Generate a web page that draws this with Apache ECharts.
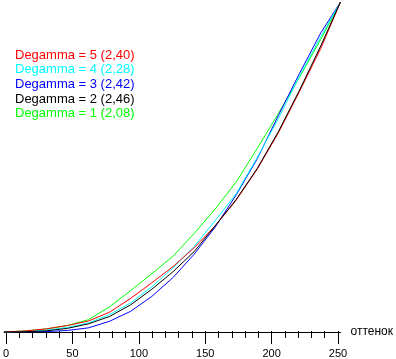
<!DOCTYPE html>
<html>
<head>
<meta charset="utf-8">
<script src="https://cdn.jsdelivr.net/npm/echarts@6/dist/echarts.min.js"></script>
<style>html,body{margin:0;padding:0;background:#fff}#c{width:396px;height:359px}</style>
</head>
<body>
<div id="c"></div>
<script>
// Input levels (x axis, "оттенок")
const levels = [0, 16, 32, 48, 64, 80, 96, 112, 128, 144, 160, 176, 192, 208, 224, 240, 255];
// Output curves
const degamma5 = [0, 0.8, 2.4, 5.0, 8.5, 15.3, 26, 38, 50.5, 65, 82, 102, 126, 154, 186, 219, 255];
const degamma4 = [0, 0.5, 1.5, 3.5, 7.0, 13.5, 22.5, 35, 49.5, 66, 86, 107, 135, 165, 198, 228, 255];
const degamma3 = [0, 0.1, 0.3, 1.2, 3.2, 8.3, 16, 27.5, 42, 60, 81, 106, 134, 167.5, 200, 231, 255];
const degamma2 = [0, 0.2, 0.9, 2.8, 6.3, 12, 21, 33, 46.5, 62, 82, 102.5, 126.5, 155, 187, 221, 255];
const degamma1 = [0, 0.8, 2.4, 5.0, 9.5, 19.5, 32, 45, 58.5, 76, 95, 116, 142, 169, 197, 226, 255];
const seriesNames = ['Degamma = 5 (2,40)', 'Degamma = 4 (2,28)', 'Degamma = 3 (2,42)', 'Degamma = 2 (2,46)', 'Degamma = 1 (2,08)'];
const seriesColors = ['#ff0000', '#00ffff', '#0000ff', '#000000', '#00ff00'];
const seriesValues = [degamma5, degamma4, degamma3, degamma2, degamma1];
const xTicks = [0, 50, 100, 150, 200, 250];
const xName = 'оттенок';

const font = '"Liberation Sans", Arial, sans-serif';
const drawOrder = [4, 2, 1, 0, 3];
const series = drawOrder.map(i => ({
  name: seriesNames[i],
  type: 'line',
  xAxisIndex: 0, yAxisIndex: 0,
  symbol: 'none',
  smooth: false,
  animation: false,
  lineStyle: { color: seriesColors[i], width: 1 },
  itemStyle: { color: seriesColors[i] },
  data: levels.map((x, k) => [x, seriesValues[i][k]])
}));

const chart = echarts.init(document.getElementById('c'), null, { renderer: 'canvas' });
chart.setOption({
  animation: false,
  backgroundColor: '#ffffff',
  grid: [
    { left: 4, right: 51.3, top: 2, bottom: 27, containLabel: false },
    { left: 4, width: 334, top: 2, bottom: 27, containLabel: false }
  ],
  legend: {
    orient: 'vertical',
    left: 5, top: 43,
    padding: 5,
    itemWidth: 0, itemHeight: 14, itemGap: 0.7,
    selectedMode: false,
    icon: 'rect',
    itemStyle: { opacity: 0 },
    lineStyle: { opacity: 0 },
    textStyle: { fontFamily: font, fontSize: 13 },
    data: seriesNames.map((n, i) => ({ name: n, textStyle: { color: seriesColors[i] } }))
  },
  xAxis: [
    {
      gridIndex: 0, type: 'value', min: 0, max: 255,
      axisLine: { show: true, lineStyle: { color: '#000', width: 1 } },
      axisTick: { show: false }, axisLabel: { show: false }, splitLine: { show: false },
      name: xName, nameLocation: 'end', nameGap: 10,
      nameTextStyle: { color: '#000', fontFamily: font, fontSize: 12, verticalAlign: 'middle', align: 'left', padding: [2, 0, 0, 0] }
    },
    {
      gridIndex: 1, type: 'value', min: 0, max: 250, interval: 50,
      axisLine: { show: false },
      axisTick: { show: true, length: 13, lineStyle: { color: '#000', width: 1 } },
      minorTick: { show: true, splitNumber: 5, length: 7, lineStyle: { color: '#000', width: 1 } },
      axisLabel: {
        show: true, margin: 17, color: '#000', fontFamily: font, fontSize: 11,
        formatter: v => (xTicks.indexOf(v) >= 0 ? String(v) : '')
      },
      splitLine: { show: false }
    }
  ],
  yAxis: [
    { gridIndex: 0, type: 'value', min: 0, max: 255, show: false },
    { gridIndex: 1, type: 'value', min: 0, max: 255, show: false }
  ],
  series: series
});
</script>
</body>
</html>
